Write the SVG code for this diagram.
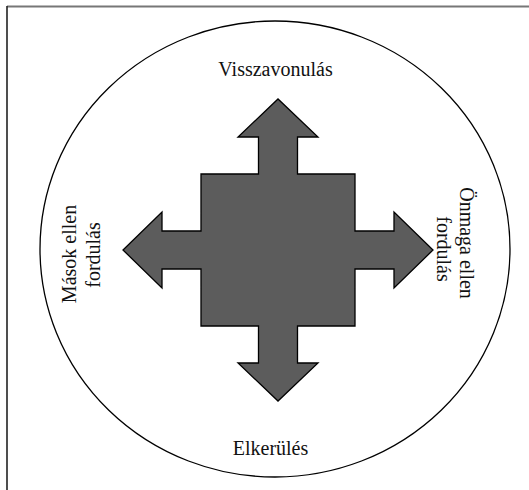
<svg xmlns="http://www.w3.org/2000/svg" width="529" height="490" viewBox="0 0 529 490">
<style>
  .lbl { font-family: "Liberation Serif", "Times New Roman", serif; font-size: 20px; fill: #111; text-anchor: middle; }
  .arrow { fill: #5c5c5c; stroke: #000; stroke-width: 1.3; stroke-linejoin: miter; }
</style>
<rect x="0" y="0" width="529" height="490" fill="#fff"/>
<g id="frame">
  <line x1="7" y1="6.5" x2="529" y2="6.5" stroke="#777" stroke-width="2"/>
  <line x1="7" y1="6" x2="7" y2="490" stroke="#222" stroke-width="1.6"/>
</g>
<g id="circle">
  <ellipse cx="275" cy="249" rx="235" ry="228" fill="none" stroke="#000" stroke-width="1.3"/>
</g>
<g id="connectors">
  <path class="arrow" d="M201,174 L258.5,174 L258.5,137 L238,137 L278,99 L318,137 L297.5,137 L297.5,174 L355,174 L355,231 L394,231 L394,212 L433,250 L394,288 L394,269 L355,269 L355,326 L297.5,326 L297.5,363 L318,363 L278,401 L238,363 L258.5,363 L258.5,326 L201,326 L201,269 L162,269 L162,288 L123,250 L162,212 L162,231 L201,231 Z"/>
</g>
<g id="node-top">
  <text class="lbl" x="275.5" y="76">Visszavonulás</text>
</g>
<g id="node-bottom">
  <text class="lbl" x="270.5" y="455">Elkerülés</text>
</g>
<g id="node-left">
  <text class="lbl" transform="translate(76,254) rotate(-90)">Mások ellen</text>
  <text class="lbl" transform="translate(100,255) rotate(-90)">fordulás</text>
</g>
<g id="node-right">
  <text class="lbl" transform="translate(460,243) rotate(90)">Önmaga ellen</text>
  <text class="lbl" transform="translate(437,249) rotate(90)">fordulás</text>
</g>
</svg>
